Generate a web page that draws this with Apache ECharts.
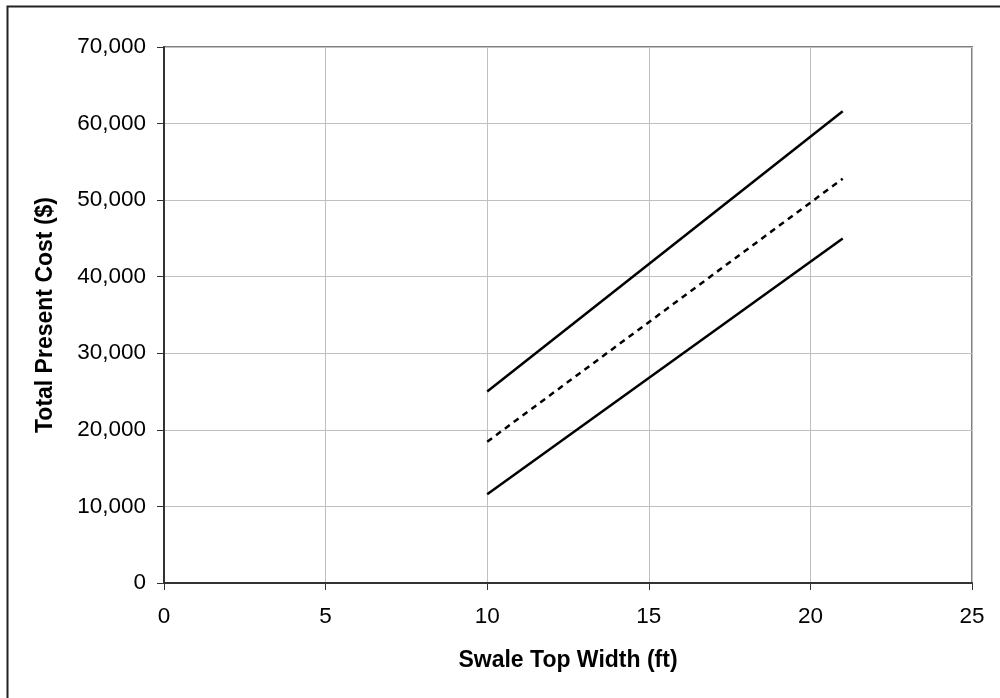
<!DOCTYPE html>
<html><head><meta charset="utf-8">
<script src="https://cdn.jsdelivr.net/npm/echarts@6/dist/echarts.min.js"></script>
<style>html,body{margin:0;padding:0;background:#fff}#c{width:1000px;height:698px}</style>
</head><body><div id="c"></div>
<script>
var xTicks = [0, 5, 10, 15, 20, 25];
var yTicks = [0, 10000, 20000, 30000, 40000, 50000, 60000, 70000];
var widths = [10, 21];
var upperCost = [25000, 61600];
var meanCost = [18450, 52800];
var lowerCost = [11600, 45000];

function pairs(xs, ys){ return xs.map(function(x,i){return [x, ys[i]];}); }
var chart = echarts.init(document.getElementById('c'), null, {renderer:'canvas'});
var font = 'Liberation Sans, Arial, sans-serif';
chart.setOption({
  animation:false,
  backgroundColor:'#fff',
  graphic:[{type:'rect', shape:{x:7.5,y:6.5,width:1100,height:800}, style:{fill:'none', stroke:'#222', lineWidth:2}, z:-1}],
  grid:{left:164, top:47, right:28, bottom:115, show:true, borderColor:'#808080', borderWidth:2, backgroundColor:'transparent'},
  xAxis:{type:'value', min:xTicks[0], max:xTicks[xTicks.length-1], interval:5,
    name:'Swale Top Width (ft)', nameLocation:'middle', nameGap:66,
    nameTextStyle:{fontFamily:font, fontSize:23, fontWeight:'bold', color:'#000'},
    axisLine:{show:true, onZero:false, lineStyle:{color:'#333', width:2}},
    axisTick:{show:true, length:7, lineStyle:{color:'#333', width:1}},
    axisLabel:{fontFamily:font, fontSize:22.5, color:'#000', margin:22},
    splitLine:{show:true, lineStyle:{color:'#c0c0c0', width:1}}},
  yAxis:{type:'value', min:yTicks[0], max:yTicks[yTicks.length-1], interval:10000,
    name:'Total Present Cost ($)', nameLocation:'middle', nameGap:107,
    nameTextStyle:{fontFamily:font, fontSize:23, fontWeight:'bold', color:'#000'},
    axisLine:{show:true, onZero:false, lineStyle:{color:'#333', width:2}},
    axisTick:{show:true, length:7, lineStyle:{color:'#333', width:1}},
    axisLabel:{fontFamily:font, fontSize:22.5, color:'#000', margin:18,
      formatter:function(v){return v.toLocaleString('en-US');}},
    splitLine:{show:true, lineStyle:{color:'#c0c0c0', width:1}}},
  series:[
    {type:'line', data:pairs(widths, upperCost), symbol:'none', lineStyle:{color:'#000', width:2.5}},
    {type:'line', data:pairs(widths, meanCost), symbol:'none', lineStyle:{color:'#000', width:2.5, type:[6,5]}},
    {type:'line', data:pairs(widths, lowerCost), symbol:'none', lineStyle:{color:'#000', width:2.5}}
  ]
});
</script></body></html>
